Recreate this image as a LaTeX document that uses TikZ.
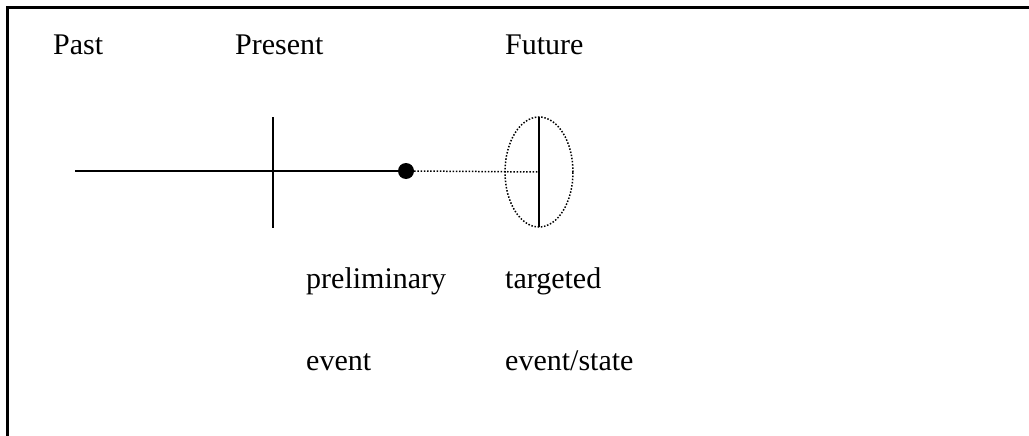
\documentclass[tikz,border=0pt]{standalone}
\usepackage{fontspec}
\setmainfont{Liberation Serif}
\usetikzlibrary{shapes.geometric}
\begin{document}
\begin{tikzpicture}[x=1pt,y=-1pt,
  lbl/.style={anchor=base west,inner sep=0pt,font=\fontsize{30}{36}\selectfont},
  axis/.style={line width=2pt,line cap=butt},
  dotline/.style={line width=1.5pt,dash pattern=on 1.5pt off 1.7pt}]
\useasboundingbox (0,0) rectangle (1029,436);
% open frame: top and left edges only
\draw[line width=2.5pt] (7.5,437) -- (7.5,7.5) -- (1030,7.5);
% time labels
\node[lbl] (past) at (53,55) {Past};
\node[lbl] (present) at (235,55) {Present};
\node[lbl] (future) at (505,55) {Future};
% time line up to the preliminary event
\coordinate (start) at (75,171);
\node[circle,fill=black,inner sep=0pt,minimum size=16pt] (ev) at (406,171) {};
\draw[axis] (start) -- (ev.center);
% present marker
\coordinate (nt) at (273,117);
\coordinate (nb) at (273,228);
\draw[axis] (nt) -- (nb);
% targeted future region
\node[ellipse,draw=none,minimum width=68pt,minimum height=110pt,inner sep=0pt] (goal) at (539,172) {};
\draw[dotline] (goal.center) ellipse [x radius=34pt,y radius=55pt];
\draw[dotline] (ev.east) -- (goal.center);
\draw[line width=2.5pt] (goal.north) -- (goal.south);
% captions
\node[lbl] (prel) at (306,288) {preliminary};
\node[lbl] (targ) at (505,288) {targeted};
\node[lbl] (event) at (306,370) {event};
\node[lbl] (estate) at (505,370) {event/state};
\end{tikzpicture}
\end{document}
